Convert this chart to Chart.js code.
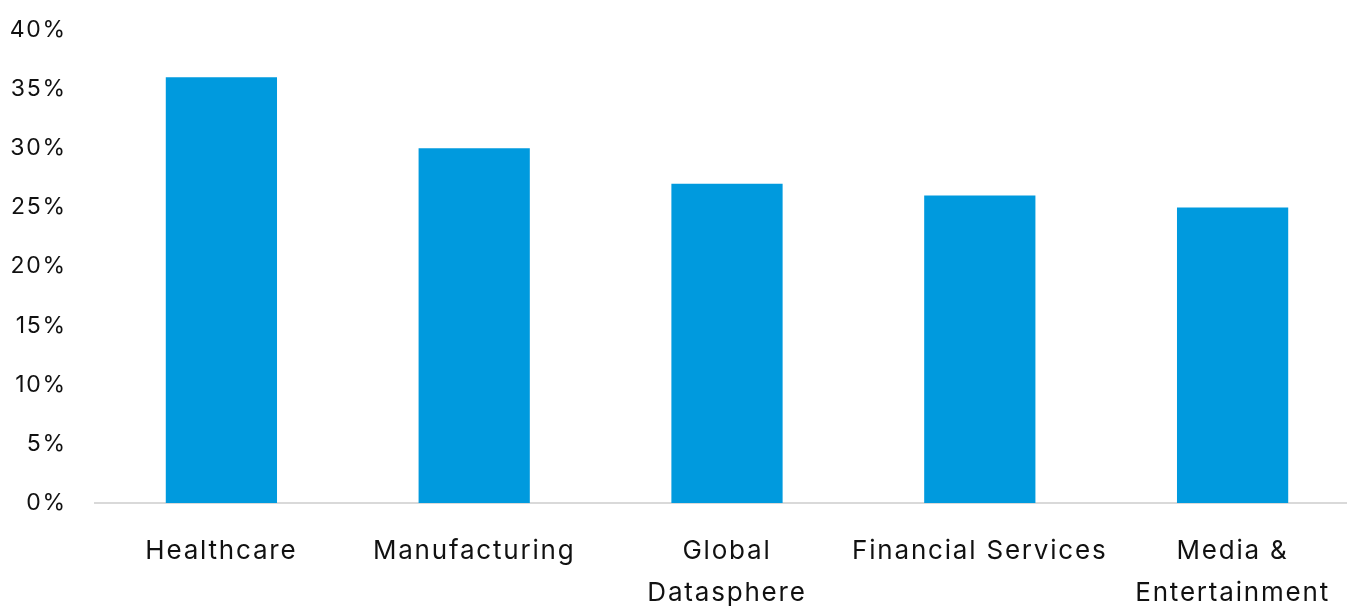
<!DOCTYPE html>
<html>
<head>
<meta charset="utf-8">
<script src="https://cdn.jsdelivr.net/npm/chart.js@4"></script>
<style>
  html, body { margin: 0; padding: 0; background: #fff; overflow: hidden; }
  #wrap { width: 1359px; height: 606px; position: relative; }
</style>
</head>
<body>
<div id="wrap"><canvas id="barChart"></canvas></div>
<script>
// --- DATA ---
const categories = ['Healthcare', 'Manufacturing', ['Global', 'Datasphere'], 'Financial Services', ['Media &', 'Entertainment']];
const shareValues = [36, 30, 27, 26, 25];
const yTicks = [0, 5, 10, 15, 20, 25, 30, 35, 40];

const barColor = '#009ADE';
const textColor = '#111111';
const fontFamily = 'Inter, "Open Sans", sans-serif';

// wider text spacing, closer to the original geometric font
const spacingPlugin = {
    id: 'spacing',
    beforeDraw: (chart) => { chart.ctx.letterSpacing = '1.8px'; }
};

const ctx = document.getElementById('barChart').getContext('2d');

new Chart(ctx, {
    type: 'bar',
    data: {
        labels: categories,
        datasets: [{
            data: shareValues,
            backgroundColor: barColor,
            borderWidth: 0,
            barPercentage: 0.44,
            categoryPercentage: 1
        }]
    },
    options: {
        responsive: true,
        maintainAspectRatio: false,
        animation: false,
        layout: { padding: { top: 30, right: 0, bottom: 0, left: 0 } },
        plugins: {
            legend: { display: false },
            tooltip: { enabled: false }
        },
        scales: {
            x: {
                grid: { display: false, drawTicks: false },
                border: { display: true, color: '#d9d9d9', width: 2 },
                ticks: {
                    color: textColor,
                    font: { family: fontFamily, size: 26, lineHeight: 1.62 },
                    padding: 27,
                    maxRotation: 0,
                    autoSkip: false
                },
                afterFit: (scale) => { scale.height = 103; }
            },
            y: {
                min: 0,
                max: 40,
                afterBuildTicks: (scale) => { scale.ticks = yTicks.map(v => ({ value: v })); },
                grid: { display: false, drawTicks: false },
                border: { display: false },
                ticks: {
                    color: textColor,
                    font: { family: fontFamily, size: 23 },
                    padding: 28,
                    callback: (v) => v + '%'
                },
                afterFit: (scale) => {
                    scale.width = 95;
                    scale.paddingTop = 0;
                    scale.paddingBottom = 0;
                }
            }
        }
    },
    plugins: [spacingPlugin]
});
</script>
</body>
</html>
